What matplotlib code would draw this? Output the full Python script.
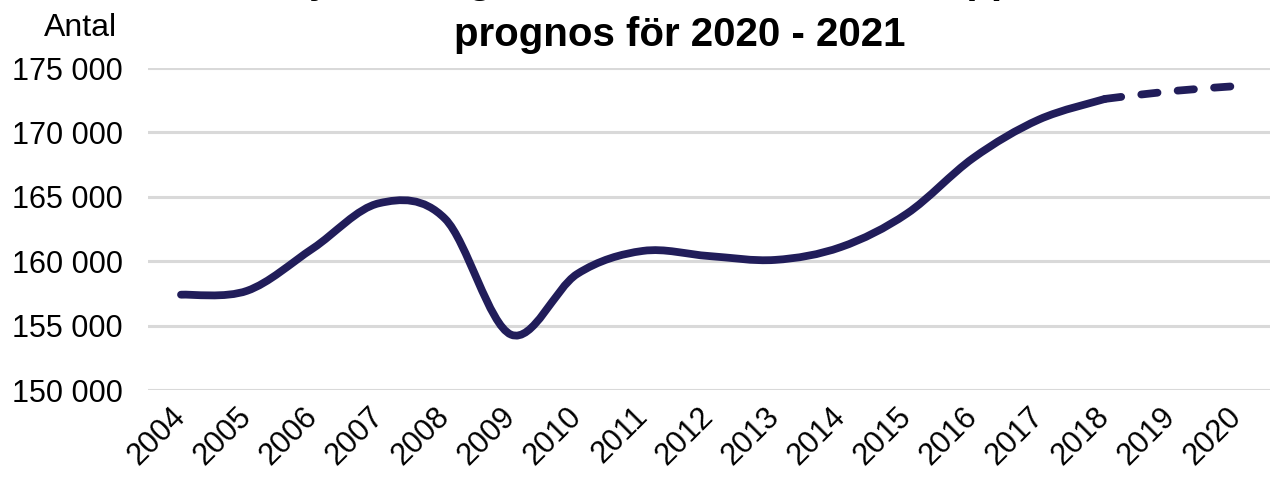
import matplotlib
matplotlib.use('Agg')
import matplotlib.pyplot as plt
from matplotlib.path import Path
from matplotlib.patches import PathPatch

plt.rcParams['font.family'] = ['Liberation Sans', 'DejaVu Sans']

years = ['2004', '2005', '2006', '2007', '2008', '2009', '2010', '2011', '2012',
         '2013', '2014', '2015', '2016', '2017', '2018', '2019', '2020']
jobs = [157400, 157700, 161000, 164500, 163300, 154300, 159000, 160800, 160400,
        160100, 161100, 163700, 168000, 171000, 172600, 173200, 173600]
last_actual = 14  # index of 2018, the dashed forecast starts here

title_line1 = 'Antal jobb i regionen 2004 - 2019 samt uppdaterad'
title_line2 = 'prognos för 2020 - 2021'
yticks = [150000, 155000, 160000, 165000, 170000, 175000]

navy = '#211D5A'


def smooth_path(xs, ys):
    # Excel style smoothed line: cubic bezier through the points
    n = len(xs)
    verts = [(xs[0], ys[0])]
    codes = [Path.MOVETO]
    for i in range(n - 1):
        i0 = max(i - 1, 0)
        i3 = min(i + 2, n - 1)
        c1 = (xs[i] + (xs[i + 1] - xs[i0]) / 6, ys[i] + (ys[i + 1] - ys[i0]) / 6)
        c2 = (xs[i + 1] - (xs[i3] - xs[i]) / 6, ys[i + 1] - (ys[i3] - ys[i]) / 6)
        verts += [c1, c2, (xs[i + 1], ys[i + 1])]
        codes += [Path.CURVE4] * 3
    return Path(verts, codes)


fig = plt.figure(figsize=(12.77, 4.78), dpi=100)
ax = fig.add_axes([148 / 1277, 1 - 390 / 478, (1270 - 148) / 1277, (390 - 68) / 478])

x = list(range(len(years)))
solid = PathPatch(smooth_path(x[:last_actual + 1], jobs[:last_actual + 1]),
                  facecolor='none', edgecolor=navy, lw=5.6, capstyle='round',
                  joinstyle='round', zorder=3)
ax.add_patch(solid)
dashed = PathPatch(smooth_path(x[last_actual:], jobs[last_actual:]),
                   facecolor='none', edgecolor=navy, lw=5.6, capstyle='round',
                   linestyle=(0, (2.1, 2.6)), zorder=3)
ax.add_patch(dashed)

ax.set_xlim(-0.5, len(years) - 0.5)
ax.set_ylim(150000, 175000)
ax.set_yticks(yticks)
ax.set_yticklabels([f'{v:,}'.replace(',', ' ') for v in yticks])
ax.set_xticks(x)
ax.set_xticklabels(years, rotation=45, ha='right', va='center', rotation_mode='anchor')
ax.tick_params(axis='both', length=0, labelsize=22, labelcolor='black')
ax.tick_params(axis='y', pad=18)
ax.tick_params(axis='x', pad=16)
ax.grid(axis='y', color='#D9D9D9', lw=2.2)
ax.set_axisbelow(True)
for s in ax.spines.values():
    s.set_visible(False)

fig.text(80 / 1277, 1 - 36 / 478, 'Antal', fontsize=23, ha='center', va='baseline')
fig.text(680 / 1277, 1 - 46 / 478, title_line2, fontsize=29, fontweight='bold',
         ha='center', va='baseline')
# first title line is mostly outside the picture, as in the original
fig.text(680 / 1277, 1 + 7 / 478, title_line1, fontsize=29, fontweight='bold',
         ha='center', va='baseline')

fig.savefig('out.png', dpi=100)
